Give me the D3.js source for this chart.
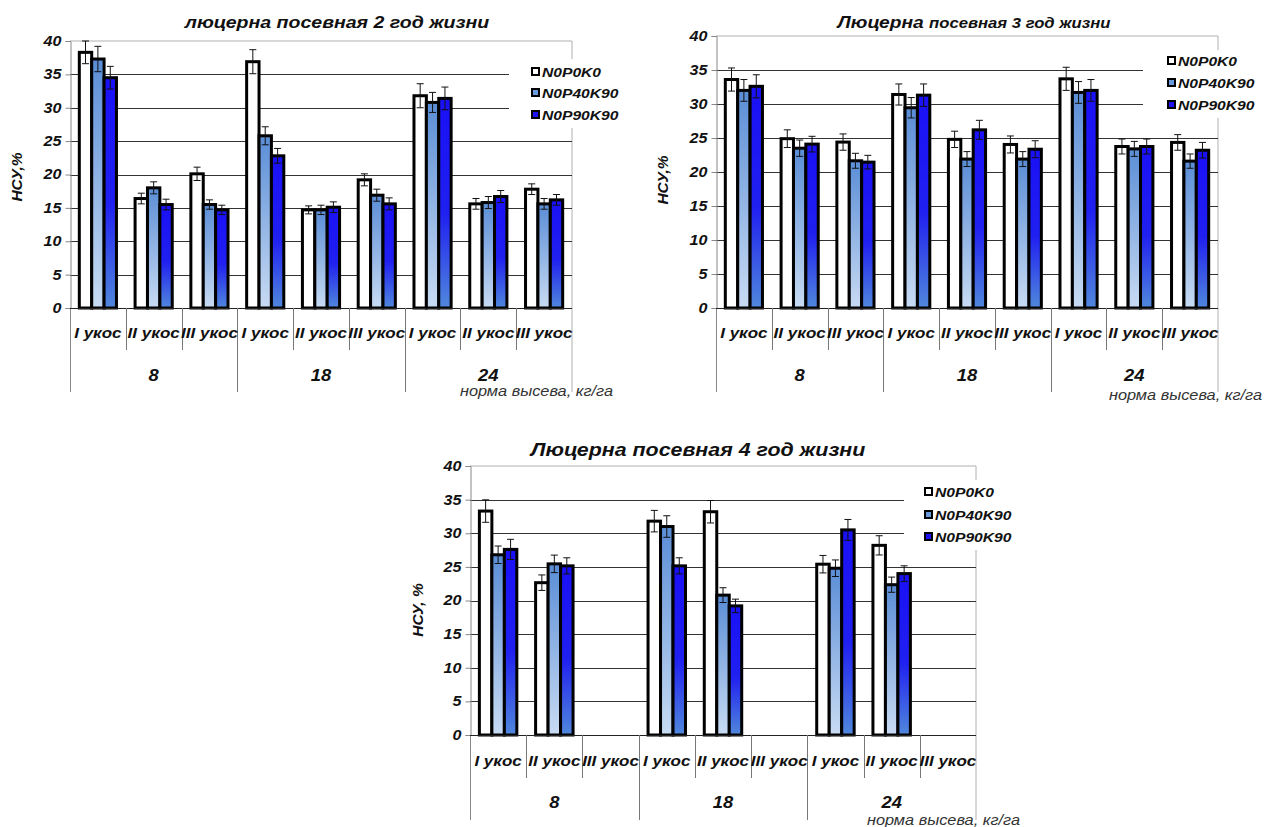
<!DOCTYPE html>
<html><head><meta charset="utf-8">
<script src="https://cdn.jsdelivr.net/npm/d3@7"></script>
<style>
html,body{margin:0;padding:0;background:#fff;}
svg{display:block;}
text{font-family:"Liberation Sans",Arial,sans-serif;}
</style></head>
<body>
<svg id="c" width="1269" height="827"></svg>
<script>
// ---------- DATA ----------
const groups = ["8", "18", "24"];
const cuts = ["I укос", "II укос", "III укос"];
const seriesNames = ["N0P0K0", "N0P40K90", "N0P90K90"];
const yTicks = [0, 5, 10, 15, 20, 25, 30, 35, 40];
const xTitle = "норма высева, кг/га";

// 2nd year of life
const y2_N0P0K0   = [38.3, 16.4, 20.1, 36.9, 14.7, 19.2, 31.8, 15.6, 17.8];
const y2_N0P40K90 = [37.3, 18.0, 15.5, 25.8, 14.7, 16.9, 30.8, 15.8, 15.6];
const y2_N0P90K90 = [34.5, 15.5, 14.7, 22.8, 15.1, 15.6, 31.4, 16.7, 16.2];
const y2_err1 = [1.7, 0.8, 1.0, 1.8, 0.6, 0.9, 1.8, 0.8, 0.8];
const y2_err2 = [1.9, 0.9, 0.7, 1.35, 0.7, 0.9, 1.5, 0.9, 0.8];
const y2_err3 = [1.7, 0.8, 0.7, 1.1, 0.8, 0.9, 1.7, 0.9, 0.8];

// 3rd year of life
const y3_N0P0K0   = [33.6, 24.9, 24.4, 31.4, 24.8, 24.05, 33.7, 23.75, 24.35];
const y3_N0P40K90 = [32.0, 23.5, 21.65, 29.45, 21.9, 21.9, 31.7, 23.4, 21.6];
const y3_N0P90K90 = [32.6, 24.1, 21.45, 31.3, 26.2, 23.35, 32.0, 23.75, 23.2];
const y3_err1 = [1.7, 1.3, 1.2, 1.55, 1.2, 1.25, 1.7, 1.1, 1.15];
const y3_err2 = [1.6, 1.2, 1.1, 1.5, 1.1, 1.1, 1.6, 1.1, 1.05];
const y3_err3 = [1.7, 1.15, 1.0, 1.65, 1.4, 1.25, 1.6, 1.1, 1.15];

// 4th year of life (III укос has no data)
const y4_N0P0K0   = [33.3, 22.65, null, 31.8, 33.2, null, 25.4, 28.2, null];
const y4_N0P40K90 = [26.8, 25.45, null, 31.0, 20.8, null, 24.8, 22.35, null];
const y4_N0P90K90 = [27.6, 25.15, null, 25.15, 19.2, null, 30.5, 24.0, null];
const y4_err1 = [1.67, 1.15, null, 1.6, 1.67, null, 1.3, 1.43, null];
const y4_err2 = [1.3, 1.3, null, 1.6, 1.1, null, 1.23, 1.13, null];
const y4_err3 = [1.5, 1.2, null, 1.2, 1.0, null, 1.55, 1.16, null];

// ---------- DRAWING ----------
const SX = 1.15; // horizontal stretch of the original picture's lettering
const svg = d3.select("#c");
const defs = svg.append("defs");
const g2 = defs.append("linearGradient").attr("id", "grad2").attr("x1", 0).attr("y1", 0).attr("x2", 0).attr("y2", 1);
g2.append("stop").attr("offset", "0%").attr("stop-color", "#5a8dd6");
g2.append("stop").attr("offset", "100%").attr("stop-color", "#c8dbf3");
const g3 = defs.append("linearGradient").attr("id", "grad3").attr("x1", 0).attr("y1", 0).attr("x2", 0).attr("y2", 1);
g3.append("stop").attr("offset", "0%").attr("stop-color", "#1a10f6");
g3.append("stop").attr("offset", "55%").attr("stop-color", "#2020f0");
g3.append("stop").attr("offset", "100%").attr("stop-color", "#5088dc");
const fills = ["#ffffff", "url(#grad2)", "url(#grad3)"];
const legendFills = ["#ffffff", "#6a9ade", "#1e12f4"];

function stext(parent, x, y, str, size, opts) {
  opts = opts || {};
  const gg = parent.append("g").attr("transform", `translate(${x},${y}) scale(${opts.sx || SX},1)`);
  const t = gg.append("text").attr("x", 0).attr("y", 0)
    .attr("text-anchor", opts.anchor || "middle")
    .attr("font-size", size)
    .attr("font-weight", opts.normal ? "normal" : "bold")
    .attr("font-style", "italic")
    .attr("fill", opts.fill || "#111");
  if (str != null) t.text(str);
  return t;
}

function drawChart(L, vals, errs) {
  const g = svg.append("g");
  const cats = [];
  groups.forEach(gr => cuts.forEach(c => cats.push(gr + "|" + c)));
  const x = d3.scaleBand().domain(cats).range([L.left, L.right]).paddingInner(0).paddingOuter(0);
  const y = d3.scaleLinear().domain([0, 40]).range([L.bottom, L.top]);
  const bw = x.bandwidth();
  const barW = bw * 0.222;
  const x1 = d3.scaleBand().domain(seriesNames).range([bw / 2 - 1.5 * barW, bw / 2 + 1.5 * barW]);

  // top border & right border (light gray)
  g.append("line").attr("x1", L.left).attr("x2", L.right).attr("y1", y(40)).attr("y2", y(40))
    .attr("stroke", "#b0b0b0").attr("stroke-width", 1);
  g.append("line").attr("x1", L.right).attr("x2", L.right).attr("y1", y(40)).attr("y2", L.sepLong)
    .attr("stroke", "#b0b0b0").attr("stroke-width", 1);

  // gridlines
  g.selectAll(".grid").data(yTicks.filter(t => t > 0 && t < 40)).enter().append("line")
    .attr("x1", L.left).attr("x2", L.right)
    .attr("y1", d => Math.round(y(d)) + 0.5).attr("y2", d => Math.round(y(d)) + 0.5)
    .attr("stroke", "#333").attr("stroke-width", 1);

  // legend background (hides gridlines)
  g.append("rect").attr("x", L.leg.bx).attr("y", L.leg.by).attr("width", L.leg.bw).attr("height", L.leg.bh)
    .attr("fill", "#fff");

  // y axis
  const yAxis = d3.axisLeft(y).tickValues(yTicks).tickSize(5).tickPadding(4).tickFormat(d3.format("d"));
  const ya = g.append("g").attr("transform", `translate(${L.left + 0.5},0)`).call(yAxis);
  ya.select(".domain").attr("stroke", "#888");
  ya.selectAll(".tick line").attr("stroke", "#888");
  ya.selectAll(".tick text").attr("font-size", 14).attr("font-weight", "bold").attr("font-style", "italic")
    .attr("fill", "#111").attr("font-family", "Liberation Sans, Arial, sans-serif")
    .attr("x", 0).attr("transform", `translate(-9,0) scale(${SX},1)`);

  // left axis extension down
  g.append("line").attr("x1", L.left + 0.5).attr("x2", L.left + 0.5).attr("y1", L.bottom).attr("y2", L.sepLong)
    .attr("stroke", "#888");

  // bars
  seriesNames.forEach((s, si) => {
    const data = vals[si].map((v, i) => ({ v, e: errs[si][i], c: cats[i] })).filter(d => d.v != null);
    g.selectAll(".bar" + si).data(data).enter().append("rect")
      .attr("x", d => x(d.c) + x1(s))
      .attr("y", d => y(d.v))
      .attr("width", x1.bandwidth())
      .attr("height", d => y(0) - y(d.v))
      .attr("fill", fills[si])
      .attr("stroke", "#000").attr("stroke-width", 3);
  });
  // error bars
  seriesNames.forEach((s, si) => {
    const data = vals[si].map((v, i) => ({ v, e: errs[si][i], c: cats[i] })).filter(d => d.v != null);
    const eg = g.selectAll(".err" + si).data(data).enter().append("g");
    const cx = d => x(d.c) + x1(s) + x1.bandwidth() / 2;
    eg.append("line").attr("x1", cx).attr("x2", cx).attr("y1", d => y(d.v + d.e)).attr("y2", d => y(d.v - d.e))
      .attr("stroke", "#111").attr("stroke-width", 1);
    eg.append("line").attr("x1", d => cx(d) - 3.5).attr("x2", d => cx(d) + 3.5).attr("y1", d => y(d.v + d.e)).attr("y2", d => y(d.v + d.e))
      .attr("stroke", "#111").attr("stroke-width", 1);
    eg.append("line").attr("x1", d => cx(d) - 3.5).attr("x2", d => cx(d) + 3.5).attr("y1", d => y(d.v - d.e)).attr("y2", d => y(d.v - d.e))
      .attr("stroke", "#111").attr("stroke-width", 1);
  });

  // x axis baseline
  g.append("line").attr("x1", L.left).attr("x2", L.right).attr("y1", L.bottom + 0.5).attr("y2", L.bottom + 0.5)
    .attr("stroke", "#222").attr("stroke-width", 1.2);

  // category separators
  cats.forEach((c, i) => {
    if (i === 0) return;
    const xx = Math.round(x(c)) + 0.5;
    const long = i % 3 === 0;
    g.append("line").attr("x1", xx).attr("x2", xx).attr("y1", L.bottom).attr("y2", long ? L.sepLong : L.sepShort)
      .attr("stroke", "#777").attr("stroke-width", 1);
  });
  // category labels
  cats.forEach(c => stext(g, x(c) + bw / 2, L.catY, c.split("|")[1], 14.8));
  // group labels
  groups.forEach((gr, gi) => {
    const cx = (x(cats[gi * 3]) + x(cats[gi * 3 + 2]) + bw) / 2;
    stext(g, cx, L.grpY, gr, 16);
  });
  // x title
  stext(g, L.xtX, L.xtY, xTitle, 14.2, { anchor: "end", normal: true, fill: "#333" });

  // y label
  g.append("text").attr("transform", `translate(${L.ylX},${L.ylY}) rotate(-90)`).attr("text-anchor", "middle")
    .attr("font-size", 15.5).attr("font-weight", "bold").attr("font-style", "italic").attr("fill", "#111").text(L.ylabel);

  // title
  const t = stext(g, L.tX, L.tY, null, 16);
  L.title.forEach(p => t.append("tspan").attr("font-size", p[1]).text(p[0]));

  // legend
  seriesNames.forEach((s, si) => {
    const ly = L.leg.ys[si];
    g.append("rect").attr("x", L.leg.x).attr("y", ly - 4).attr("width", 7).attr("height", 7)
      .attr("fill", legendFills[si]).attr("stroke", "#000").attr("stroke-width", 2);
    stext(g, L.leg.x + 10, ly + 5, s, 13.6, { anchor: "start" });
  });
}

drawChart({
  left: 70, right: 572, top: 41, bottom: 308, sepShort: 350, sepLong: 392, catY: 338, grpY: 381,
  xtX: 613, xtY: 396, ylX: 22, ylY: 177, ylabel: "НСУ,%", tX: 337, tY: 28,
  title: [["люцерна посевная 2 год жизни", 17]],
  leg: { bx: 509, by: 59, bw: 117, bh: 69, x: 532, ys: [72, 93, 115] }
}, [y2_N0P0K0, y2_N0P40K90, y2_N0P90K90], [y2_err1, y2_err2, y2_err3]);

drawChart({
  left: 716, right: 1218, top: 36, bottom: 308, sepShort: 350, sepLong: 392, catY: 338, grpY: 381,
  xtX: 1262, xtY: 400, ylX: 668, ylY: 180, ylabel: "НСУ,%", tX: 974, tY: 28,
  title: [["Люцерна ", 16.7], ["посевная 3 год жизни", 14.5]],
  leg: { bx: 1143, by: 50, bw: 126, bh: 68, x: 1168, ys: [61, 83, 105] }
}, [y3_N0P0K0, y3_N0P40K90, y3_N0P90K90], [y3_err1, y3_err2, y3_err3]);

drawChart({
  left: 470, right: 976, top: 466, bottom: 735, sepShort: 778, sepLong: 820, catY: 766, grpY: 808,
  xtX: 1020, xtY: 825, ylX: 423, ylY: 610, ylabel: "НСУ, %", tX: 698, tY: 456,
  title: [["Люцерна посевная 4 год жизни", 18.6]],
  leg: { bx: 904, by: 480, bw: 116, bh: 70, x: 925, ys: [492, 515, 537] }
}, [y4_N0P0K0, y4_N0P40K90, y4_N0P90K90], [y4_err1, y4_err2, y4_err3]);
</script>
</body></html>
